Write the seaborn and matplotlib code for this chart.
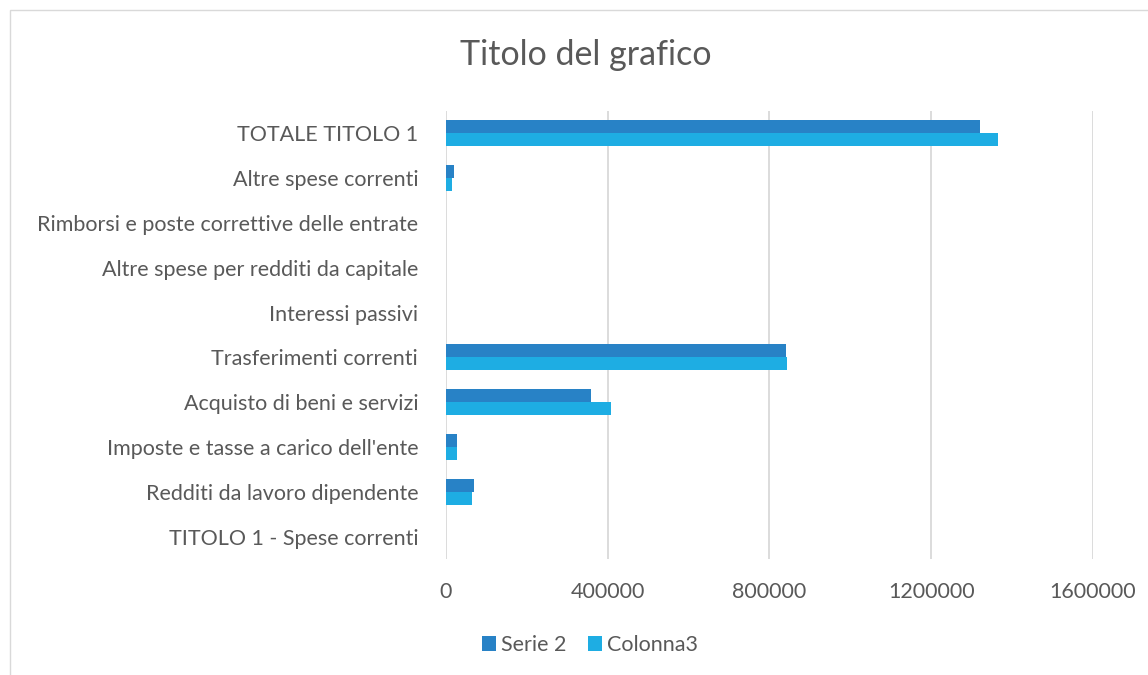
import pandas as pd
import matplotlib.pyplot as plt
import seaborn as sns
from matplotlib.patches import Rectangle
from matplotlib.ticker import FuncFormatter

# Categories listed top to bottom as they appear in the chart
categories = [
    "TOTALE TITOLO 1",
    "Altre spese correnti",
    "Rimborsi e poste correttive delle entrate",
    "Altre spese per redditi da capitale",
    "Interessi passivi",
    "Trasferimenti correnti",
    "Acquisto di beni e servizi",
    "Imposte e tasse a carico dell'ente",
    "Redditi da lavoro dipendente",
    "TITOLO 1 - Spese correnti",
]
serie2 = [1320000, 20000, 0, 0, 0, 840000, 359000, 28000, 70000, 0]
colonna3 = [1365000, 16000, 0, 0, 0, 843000, 408000, 28000, 65000, 0]
series_names = ["Serie 2", "Colonna3"]
xticks = [0, 400000, 800000, 1200000, 1600000]

df = pd.DataFrame({
    "Categoria": categories * 2,
    "Valore": serie2 + colonna3,
    "Serie": [series_names[0]] * len(categories) + [series_names[1]] * len(categories),
})

sns.set_style("white")
plt.rcParams["font.family"] = ["Lato", "DejaVu Sans"]
text_color = "#595959"

fig = plt.figure(figsize=(11.48, 6.75), dpi=100)
ax = fig.add_axes([446 / 1148, 1 - 559.4 / 675, (1093 - 446) / 1148, 448.8 / 675])

sns.barplot(data=df, x="Valore", y="Categoria", hue="Serie", order=categories,
            hue_order=series_names, palette=["#2882C6", "#1EADE3"], saturation=1,
            orient="h", width=0.58, linewidth=0, ax=ax)

ax.set_xlim(0, 1600000)
ax.set_xticks(xticks)
ax.xaxis.set_major_formatter(FuncFormatter(lambda v, p: f"{v:.0f}"))
ax.grid(axis="x", color="#D9D9D9", linewidth=1.3)
ax.set_axisbelow(True)
for s in ax.spines.values():
    s.set_visible(False)
ax.tick_params(axis="both", length=0, labelsize=15.5, labelcolor=text_color)
ax.tick_params(axis="x", pad=16)
ax.tick_params(axis="y", pad=20)
ax.set_xlabel("")
ax.set_ylabel("")

ax.legend(loc="center", bbox_to_anchor=(590 / 1148, 1 - 645 / 675),
          bbox_transform=fig.transFigure, ncol=2, frameon=False,
          fontsize=15.5, labelcolor=text_color, handlelength=0.65, handleheight=0.65,
          handletextpad=0.25, columnspacing=1.0)

fig.text(586 / 1148, 1 - 55 / 675, "Titolo del grafico", ha="center", va="center",
         fontsize=24.5, color=text_color)

fig.patches.append(Rectangle((10 / 1148, -0.01), 1.0, 1 - 10 / 675 + 0.01,
                             transform=fig.transFigure, fill=False,
                             edgecolor="#D9D9D9", linewidth=1))

plt.savefig("out.png", dpi=100)
